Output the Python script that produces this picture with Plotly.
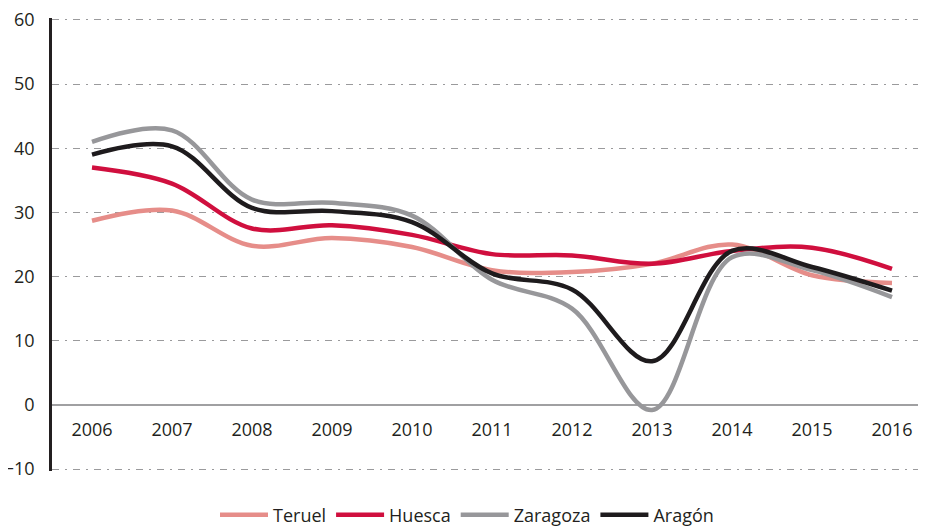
import plotly.graph_objects as go

years = [2006, 2007, 2008, 2009, 2010, 2011, 2012, 2013, 2014, 2015, 2016]
teruel = [28.7, 30.3, 24.8, 26.0, 24.6, 21.0, 20.7, 22.0, 25.0, 20.2, 19.0]
huesca = [37.0, 34.5, 27.5, 28.0, 26.5, 23.5, 23.3, 22.0, 24.0, 24.5, 21.2]
zaragoza = [41.0, 42.8, 32.0, 31.5, 29.5, 19.5, 15.0, -0.8, 23.0, 21.0, 16.8]
aragon = [39.0, 40.3, 30.7, 30.2, 28.5, 20.5, 18.0, 6.8, 24.0, 21.5, 17.8]

series = [
    ("Teruel", teruel, "#E68D89"),
    ("Huesca", huesca, "#D00F3E"),
    ("Zaragoza", zaragoza, "#97979A"),
    ("Aragón", aragon, "#1E1B1D"),
]

FONT = "Open Sans, Liberation Sans, sans-serif"

fig = go.Figure()
for name, vals, color in series:
    fig.add_trace(go.Scatter(
        x=years, y=vals, name=name, mode="lines",
        line=dict(color=color, width=4.5, shape="spline", smoothing=1.0),
    ))

# plot area (figure coords): x 44..918 (80 px / year), y 10..463 for range [-10.3, 60.3]
fig.update_layout(
    width=926, height=528,
    margin=dict(l=44, r=8, t=10, b=65),
    paper_bgcolor="white", plot_bgcolor="white",
    font=dict(family=FONT, size=18, color="#231F20"),
    showlegend=True,
    legend=dict(
        orientation="h", x=(467 - 8 - 44) / 874, xanchor="center",
        yref="container", y=(528 - 507) / 528, yanchor="middle",
        font=dict(size=18), itemwidth=48, traceorder="normal",
    ),
    xaxis=dict(
        range=[2005.5, 2016.425], automargin=False,
        tickmode="array", tickvals=years, ticktext=[str(y) for y in years],
        anchor="free", position=(463 - 397) / 453,
        showline=False, showgrid=False, zeroline=False,
        ticks="outside", ticklen=8, tickcolor="rgba(0,0,0,0)",
        tickfont=dict(size=18), ticklabeloverflow="allow",
    ),
    yaxis=dict(
        range=[-10.3, 60.3], automargin=False,
        tickvals=[-10, 0, 10, 20, 30, 40, 50, 60],
        showline=True, linecolor="#231F20", linewidth=2.5,
        showgrid=True, gridcolor="#9A9A9C", gridwidth=1.3,
        griddash="7px,6px,2px,6px",
        zeroline=True, zerolinecolor="#A0A0A2", zerolinewidth=1.6,
        ticks="outside", ticklen=11, tickcolor="rgba(0,0,0,0)",
        tickfont=dict(size=18), ticklabeloverflow="allow",
    ),
)

fig.write_html("out.html")
